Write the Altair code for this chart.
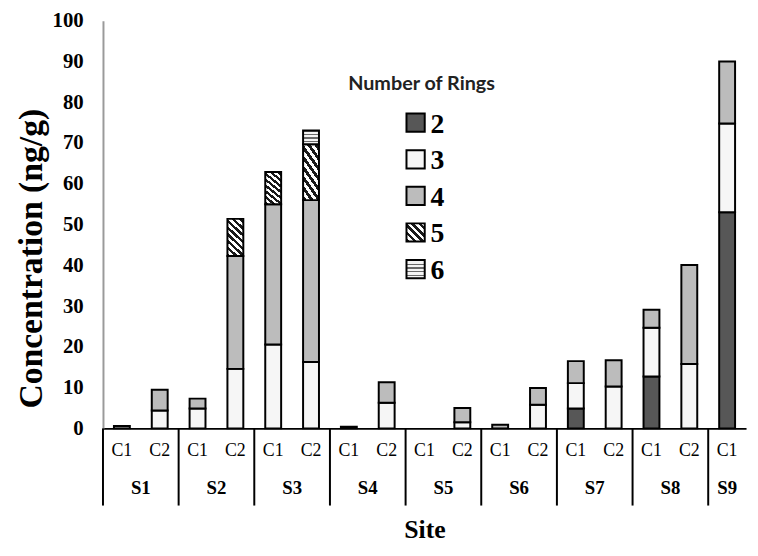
import altair as alt
import pandas as pd

# ---- data ----
sites = ["S1", "S1", "S2", "S2", "S3", "S3", "S4", "S4", "S5", "S5",
         "S6", "S6", "S7", "S7", "S8", "S8", "S9"]
samples = ["C1", "C2", "C1", "C2", "C1", "C2", "C1", "C2", "C1", "C2",
           "C1", "C2", "C1", "C2", "C1", "C2", "C1"]
ring2 = [0, 0, 0, 0, 0, 0, 0, 0, 0, 0, 0, 0, 4.9, 0, 12.7, 0, 53.0]
ring3 = [0, 4.4, 4.9, 14.6, 20.6, 16.3, 0, 6.3, 0, 1.5, 0, 5.8, 6.2, 10.3, 12.0, 15.8, 21.8]
ring4 = [0.6, 5.1, 2.4, 27.7, 34.4, 39.7, 0.4, 5.0, 0, 3.5, 0.9, 4.1, 5.4, 6.4, 4.4, 24.3, 15.2]
ring5 = [0, 0, 0, 9.1, 7.9, 13.7, 0, 0, 0, 0, 0, 0, 0, 0, 0, 0, 0]
ring6 = [0, 0, 0, 0, 0, 3.4, 0, 0, 0, 0, 0, 0, 0, 0, 0, 0, 0]
ring_names = ["2", "3", "4", "5", "6"]
site_names = ["S1", "S2", "S3", "S4", "S5", "S6", "S7", "S8", "S9"]

cats = [f"{s}|{c}" for s, c in zip(sites, samples)]
series = [ring2, ring3, ring4, ring5, ring6]

rows = []
for r, vals in zip(ring_names, series):
    for cat, v in zip(cats, vals):
        if v > 0:
            rows.append({"cat": cat, "ring": int(r), "value": v})
df = pd.DataFrame(rows)

# site label anchors: centre of a two-sample group is the start of its C2 band
pair_anchor = pd.DataFrame({"cat": [f"{s}|C2" for s in site_names if f"{s}|C2" in cats],
                            "site": [s for s in site_names if f"{s}|C2" in cats]})
single_anchor = pd.DataFrame({"cat": [f"{s}|C1" for s in site_names if f"{s}|C2" not in cats],
                              "site": [s for s in site_names if f"{s}|C2" not in cats]})
sep_df = pd.DataFrame({"cat": [f"{s}|C1" for s in site_names]})
legend_df = pd.DataFrame({"ring": [int(r) for r in ring_names], "label": ring_names})

# ---- fills (patterns approximated with gradients) ----
def stripes(n, c1, c2, duty=0.5, **coords):
    stops = []
    p = 1.0 / n
    for k in range(n):
        a = k * p
        b = a + p * duty
        stops += [{"offset": round(a, 4), "color": c1}, {"offset": round(b, 4), "color": c1},
                  {"offset": round(b, 4), "color": c2}, {"offset": round(a + p, 4), "color": c2}]
    g = {"gradient": "linear", "stops": stops}
    g.update(coords)
    return g

bar_fill = {
    2: "#575757",
    3: "#f6f6f6",
    4: "#bcbcbc",
    5: stripes(16, "#1a1a1a", "#ffffff", 0.5, x1=0, y1=1, x2=1, y2=-1.5),
    6: stripes(4, "#6a6a6a", "#f4f4f4", 0.35, x1=0, y1=0, x2=0, y2=1),
}
legend_fill = {
    2: "#575757",
    3: "#f6f6f6",
    4: "#bcbcbc",
    5: stripes(5, "#1a1a1a", "#ffffff", 0.5, x1=0, y1=1, x2=1, y2=0),
    6: stripes(5, "#6a6a6a", "#f4f4f4", 0.35, x1=0, y1=0, x2=0, y2=1),
}

SERIF = "Liberation Serif, Times New Roman, serif"
x_scale = alt.Scale(domain=cats, paddingInner=0, paddingOuter=0)
x_axis = alt.Axis(labelExpr="split(datum.value, '|')[1]", labelFont=SERIF, labelFontSize=18,
                  labelColor="black", labelPadding=13, labelAngle=0, ticks=False,
                  domainColor="black", domainWidth=2, title="Site", titleFont=SERIF,
                  titleFontSize=26, titleFontWeight="bold", titleColor="black", titlePadding=58)
y_axis = alt.Axis(values=list(range(0, 101, 10)), grid=False, ticks=False,
                  domainColor="#9a9a9a", domainWidth=2, labelFont=SERIF, labelFontSize=21,
                  labelFontWeight="bold", labelColor="black", labelPadding=20,
                  title="Concentration (ng/g)", titleFont=SERIF, titleFontSize=34,
                  titleFontWeight="bold", titleColor="black", titlePadding=4, titleY=240)

base = alt.Chart(df).transform_stack(
    stack="value", groupby=["cat"], as_=["y0", "y1"],
    sort=[alt.SortField("ring", order="ascending")])

layers = []
for i, r in enumerate(ring_names):
    k = int(r)
    layers.append(
        base.transform_filter(alt.datum.ring == k)
        .mark_bar(fill=bar_fill[k], stroke="black", strokeWidth=2,
                  width=alt.RelativeBandSize(0.42))
        .encode(x=alt.X("cat:N", scale=x_scale, axis=x_axis),
                y=alt.Y("y1:Q", scale=alt.Scale(domain=[0, 100], nice=False), axis=y_axis),
                y2=alt.Y2("y0:Q"))
    )

# category-group separators
seps = alt.Chart(sep_df).mark_rule(color="black", strokeWidth=2).encode(
    x=alt.X("cat:N", bandPosition=0, scale=x_scale, axis=x_axis),
    y=alt.value(412), y2=alt.value(490))
layers.append(seps)

site_pair = alt.Chart(pair_anchor).mark_text(font=SERIF, fontSize=19, fontWeight="bold",
                                             color="black", baseline="middle").encode(
    x=alt.X("cat:N", bandPosition=0, scale=x_scale, axis=x_axis),
    y=alt.value(472), text="site:N")
site_single = alt.Chart(single_anchor).mark_text(font=SERIF, fontSize=19, fontWeight="bold",
                                                 color="black", baseline="middle").encode(
    x=alt.X("cat:N", bandPosition=0.5, scale=x_scale, axis=x_axis),
    y=alt.value(472), text="site:N")
layers += [site_pair, site_single]

# legend
leg_title = alt.Chart(legend_df.head(1)).mark_text(
    font="Lato", fontSize=20, fontWeight="bold", color="#222222", align="center",
    baseline="middle").encode(x=alt.value(322), y=alt.value(64), text=alt.value("Number of Rings"))
layers.append(leg_title)
for i, r in enumerate(ring_names):
    k = int(r)
    ly = 103 + i * 37
    sq = alt.Chart(legend_df).transform_filter(alt.datum.ring == k).mark_square(
        size=340, fill=legend_fill[k], fillOpacity=1, stroke="black", strokeWidth=2,
        opacity=1).encode(x=alt.value(316), y=alt.value(ly))
    tx = alt.Chart(legend_df).transform_filter(alt.datum.ring == k).mark_text(
        font=SERIF, fontSize=28, fontWeight="bold", color="black", align="left",
        baseline="middle", dy=2).encode(x=alt.value(331), y=alt.value(ly), text="label:N")
    layers += [sq, tx]

chart = alt.layer(*layers).properties(
    width=650, height=412,
    autosize=alt.AutoSizeParams(type="none"),
    padding={"left": 96, "top": 10, "right": 4, "bottom": 118},
).configure_view(stroke="transparent")

chart.save("out.html", embed_options={"renderer": "svg", "actions": False})
